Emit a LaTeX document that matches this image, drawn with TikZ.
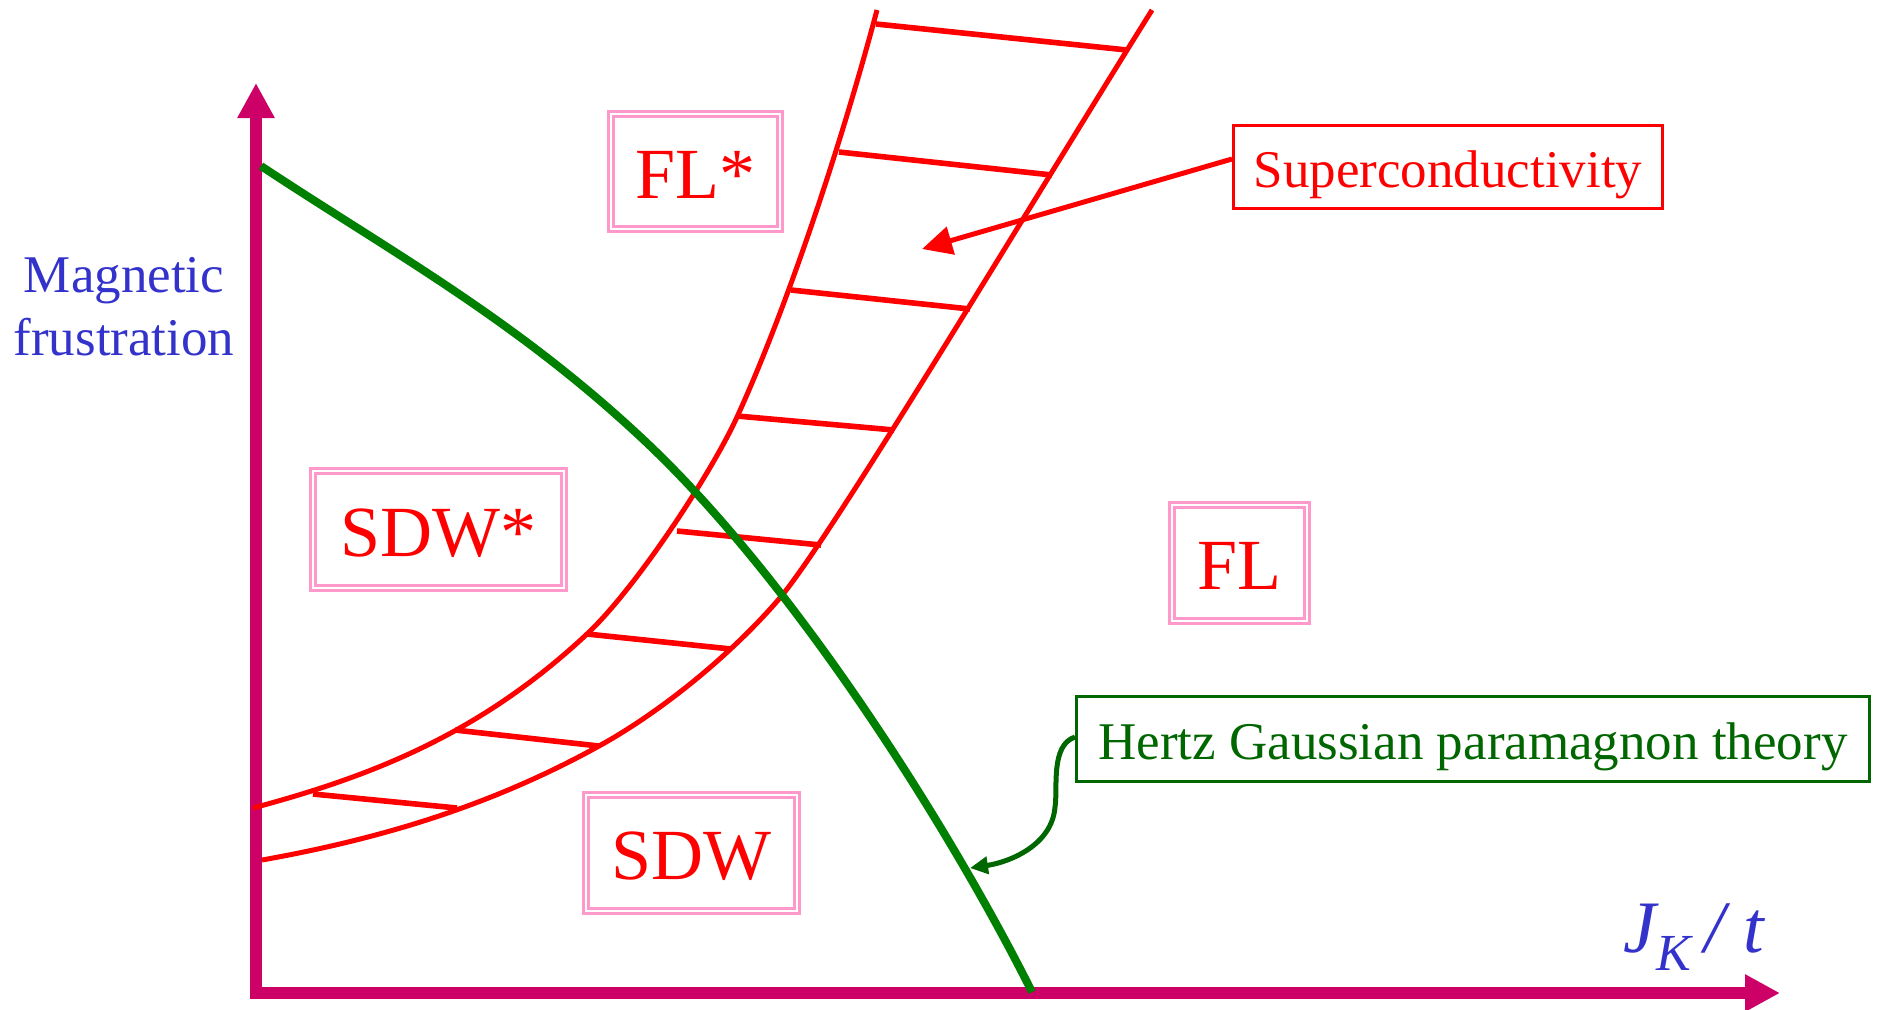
\documentclass[tikz,border=0pt]{standalone}
\usepackage{fontspec}
\setmainfont{Liberation Serif}
\usetikzlibrary{arrows.meta}
\definecolor{axiscol}{HTML}{CC0066}
\definecolor{phred}{HTML}{FF0000}
\definecolor{boxpink}{HTML}{FF99CC}
\definecolor{labblue}{HTML}{3333CC}
\definecolor{curvegreen}{HTML}{008000}
\definecolor{hzgreen}{HTML}{006600}
\begin{document}
\begin{tikzpicture}[x=0.5pt,y=-0.5pt,
  phase/.style={draw=boxpink, double=white, line width=1.4pt, double distance=1.1pt,
    text=phred, font=\fontsize{36}{40}\selectfont, inner sep=0pt,
    text height=26.5pt, text depth=0pt},
  callout/.style={line width=1.5pt, inner sep=0pt, font=\fontsize{26.5}{30}\selectfont,
    text height=20pt, text depth=0pt},
  maglab/.style={text=labblue, font=\fontsize{26.5}{30}\selectfont, inner sep=0pt},
  axisline/.style={draw=axiscol, line width=6pt, line join=miter,
    arrows={Triangle[length=17.5pt,width=17.5pt]-Triangle[length=17.5pt,width=17.5pt]}},
  bound/.style={draw=phred, line width=2.5pt},
  hatchline/.style={draw=phred, line width=2.8pt},
  fermi/.style={draw=curvegreen, line width=4pt},
  scarrow/.style={draw=phred, line width=2.5pt, -{Triangle[length=15pt,width=14pt]}},
  hzarrow/.style={draw=hzgreen, line width=2.5pt, -{Triangle[length=9pt,width=8.5pt]}}]
\useasboundingbox (0,0) rectangle (1879,1009);

% axes
\coordinate (ytop) at (256,83);
\coordinate (origin) at (256,993);
\coordinate (xend) at (1780,993);
\draw[axisline] (ytop) -- (origin) -- (xend);

% superconducting band boundaries
\draw[bound] (253,808) .. controls (364,778) and (476,738) .. (587,634)
  .. controls (637,587) and (712,472) .. (737,417)
  .. controls (782,319) and (837,160) .. (877,10);
\draw[bound] (262,860) .. controls (374,840) and (487,808) .. (599,746)
  .. controls (659,713) and (729,657) .. (779,599)
  .. controls (829,541) and (1032,202) .. (1152,10);

% hatching
\draw[hatchline] (876,24) -- (1127,50);
\draw[hatchline] (839,152) -- (1052,175);
\draw[hatchline] (791,290) -- (970,309);
\draw[hatchline] (737,416) -- (894,430);
\draw[hatchline] (677,531) -- (821,545);
\draw[hatchline] (587,634) -- (731,649);
\draw[hatchline] (455,730) -- (599,746);
\draw[hatchline] (313,794) -- (457,808);

% green boundary
\draw[fermi] (261,166) .. controls (391,252) and (517,320) .. (647,443)
  .. controls (797,585) and (952,832) .. (1032,992);

% phase labels
\node[phase, minimum width=84.5pt, minimum height=57.5pt] (flstar) at (695.5,171.5) {FL*};
\node[phase, minimum width=125.5pt, minimum height=58.5pt] (sdwstar) at (438.5,529.5) {SDW*};
\node[phase, minimum width=105.5pt, minimum height=58pt] (sdw) at (691.5,853) {SDW};
\node[phase, minimum width=67.5pt, minimum height=58pt] (fl) at (1239.5,563) {FL};

% callouts
\node[callout, draw=phred, text=phred, minimum width=214.5pt, minimum height=41.5pt] (sc) at (1448,167) {Superconductivity};
\node[callout, draw=hzgreen, text=hzgreen, minimum width=396.5pt, minimum height=42.5pt] (hz) at (1473,739) {Hertz Gaussian paramagnon theory};

\coordinate (tipS) at (922,249);
\coordinate (tipH) at (970,868);
\draw[scarrow] ([yshift=4pt]sc.west) -- (tipS);
\draw[hzarrow] ([yshift=1pt]hz.west) .. controls (1050,745) and (1058,790) .. (1055,807) .. controls (1052,845) and (1010,862) .. (tipH);

% axis labels
\node[maglab, anchor=base] (mag1) at (124,292) {Magnetic};
\node[maglab, anchor=base] (mag2) at (124,355) {frustration};
\node[anchor=base west, inner sep=0pt, text=labblue] (jk) at (1623,952)
  {\fontsize{37}{40}\selectfont\itshape J\raisebox{-9pt}{\fontsize{26}{30}\selectfont K}\hspace{7pt}/\hspace{9pt}t};
\end{tikzpicture}
\end{document}
